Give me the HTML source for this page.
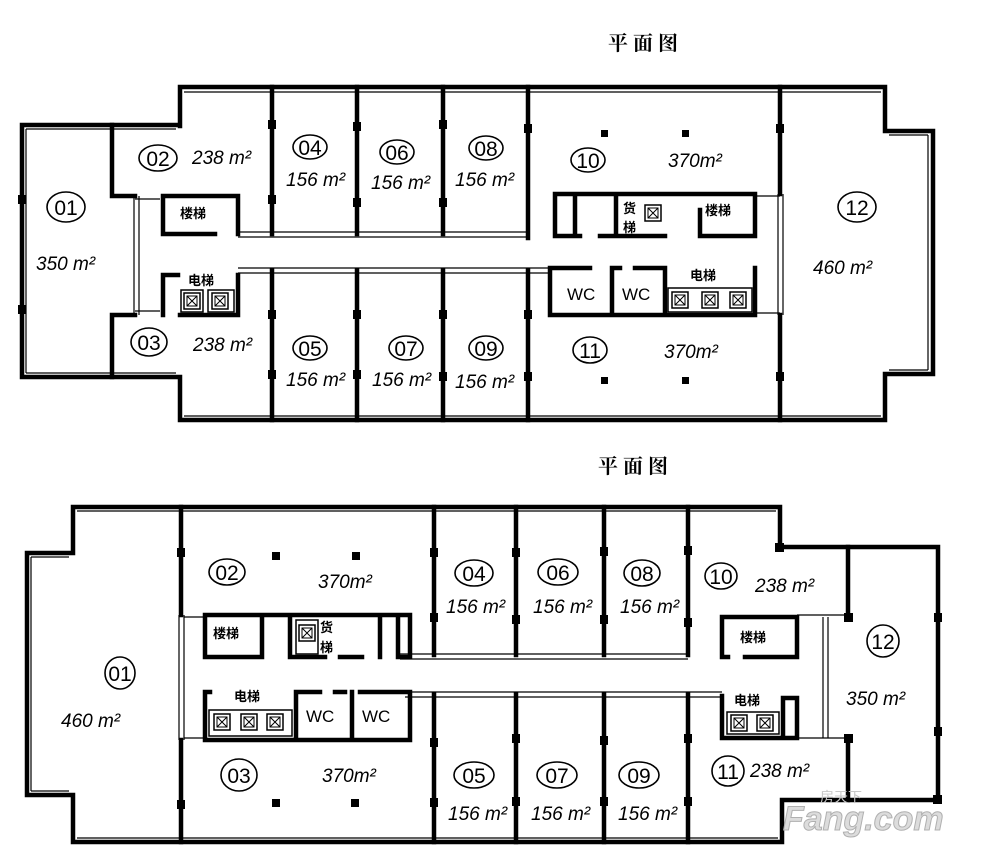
<!DOCTYPE html>
<html><head><meta charset="utf-8"><style>
html,body{margin:0;padding:0;background:#fff;}
svg{display:block;}
.w{stroke:#000;stroke-width:4.5;fill:none;stroke-linecap:square;}
.t{stroke:#000;stroke-width:1.2;fill:none;}
.c{fill:#fff;stroke:#000;stroke-width:1.6;}
.n{font-family:"Liberation Sans",sans-serif;font-size:21px;text-anchor:middle;}
.a{font-family:"Liberation Sans",sans-serif;font-style:italic;font-size:19px;}
.cj{font-family:"Liberation Sans","Noto Sans CJK SC",sans-serif;font-weight:bold;font-size:13px;}
.ti{font-family:"Liberation Serif","Noto Serif CJK SC",serif;font-weight:bold;font-size:20px;letter-spacing:5px;}
</style></head><body>
<svg width="981" height="857" viewBox="0 0 981 857" xmlns="http://www.w3.org/2000/svg">
<defs>
<g id="el"><rect x="0" y="0" width="16" height="16" fill="#fff" stroke="#000" stroke-width="1.5"/><rect x="3" y="3" width="10" height="10" fill="none" stroke="#000" stroke-width="1"/><path d="M3 3L13 13M13 3L3 13" stroke="#000" stroke-width="1"/></g>
</defs>
<!-- ============ TOP PLAN ============ -->
<text x="608" y="50" class="ti">平面图</text>
<path class="w" d="M180 126 V87 H885 V131 H933 V374 H885 V420 H180 V377 H22 V125 H180"/>
<path class="t" d="M184 92 H881 M889 135 H928 M928 135 V370 M889 370 H928 M184 416 H881 M26 129 V373 M26 129 H176 M26 373 H176"/>
<path class="w" d="M112 125 V196 H135 M112 377 V315 H135 M163 234 V196 H238 V234 M163 234 H215 M163 315 V275 H178 M180 315 H238 V275"/>
<path class="t" d="M134 196 V315 M139 196 V315 M135 199 H160 M135 311 H160"/>
<path class="w" d="M272 87 V234 M357 87 V234 M443 87 V234 M528 87 V238 M272 270 V420 M357 270 V420 M443 270 V420 M528 270 V420 M780 87 V194 M780 315 V420"/>
<path class="t" d="M238 232 H528 M238 237 H528 M238 268 H550 M238 273 H550 M778 194 V315 M783 194 V315 M755 196 H780 M755 313 H780"/>
<path class="w" d="M555 194 H755 V236 H700 M555 194 V236 M575 194 V236 M555 236 H580 M600 236 H665 M700 236 V210 M616 194 V236"/>
<path class="w" d="M550 268 V315 H755 V268 M550 268 H590 M612 268 V315 M612 268 H620 M635 268 H665 V315"/>
<rect x="668" y="288" width="84" height="24" fill="none" stroke="#000" stroke-width="1.5"/>
<use href="#el" x="672" y="292"/><use href="#el" x="702" y="292"/><use href="#el" x="730" y="292"/>
<use href="#el" x="645" y="205"/>
<text x="623" y="213" class="cj">货</text><text x="623" y="232" class="cj">梯</text>
<text x="705" y="215" class="cj">楼梯</text>
<text x="690" y="280" class="cj">电梯</text>
<text x="567" y="300" class="a" style="font-style:normal;font-size:17px">WC</text>
<text x="622" y="300" class="a" style="font-style:normal;font-size:17px">WC</text>
<rect x="181" y="290" width="22" height="22" fill="none" stroke="#000" stroke-width="1.5"/>
<use href="#el" x="184" y="293"/><use href="#el" x="212" y="293"/>
<rect x="208" y="290" width="26" height="22" fill="none" stroke="#000" stroke-width="1.5"/>
<text x="180" y="218" class="cj">楼梯</text>
<text x="188" y="285" class="cj">电梯</text>
<g fill="#000">
<rect x="601" y="130" width="7" height="7"/><rect x="682" y="130" width="7" height="7"/>
<rect x="601" y="377" width="7" height="7"/><rect x="682" y="377" width="7" height="7"/>
<rect x="268" y="120" width="8" height="9"/><rect x="353" y="122" width="8" height="9"/><rect x="439" y="120" width="8" height="9"/><rect x="524" y="124" width="8" height="9"/>
<rect x="268" y="195" width="8" height="9"/><rect x="353" y="198" width="8" height="9"/><rect x="439" y="198" width="8" height="9"/>
<rect x="268" y="310" width="8" height="9"/><rect x="353" y="310" width="8" height="9"/><rect x="439" y="310" width="8" height="9"/><rect x="524" y="310" width="8" height="9"/>
<rect x="268" y="370" width="8" height="9"/><rect x="353" y="370" width="8" height="9"/><rect x="439" y="372" width="8" height="9"/><rect x="524" y="372" width="8" height="9"/>
<rect x="776" y="124" width="8" height="9"/><rect x="776" y="372" width="8" height="9"/>
<rect x="18" y="195" width="8" height="9"/><rect x="18" y="305" width="8" height="9"/>
</g>
<g>
<ellipse class="c" cx="66" cy="207" rx="19" ry="15"/><text x="66" y="215" class="n">01</text>
<text x="36" y="270" class="a">350 m²</text>
<ellipse class="c" cx="158" cy="158" rx="19" ry="13"/><text x="158" y="166" class="n">02</text>
<text x="192" y="164" class="a">238 m²</text>
<ellipse class="c" cx="149" cy="342" rx="18" ry="14"/><text x="149" y="350" class="n">03</text>
<text x="193" y="351" class="a">238 m²</text>
<ellipse class="c" cx="310" cy="147" rx="17" ry="12"/><text x="310" y="155" class="n">04</text>
<text x="286" y="186" class="a">156 m²</text>
<ellipse class="c" cx="397" cy="152" rx="17" ry="12"/><text x="397" y="160" class="n">06</text>
<text x="371" y="189" class="a">156 m²</text>
<ellipse class="c" cx="486" cy="148" rx="17" ry="12"/><text x="486" y="156" class="n">08</text>
<text x="455" y="186" class="a">156 m²</text>
<ellipse class="c" cx="588" cy="160" rx="17" ry="12"/><text x="588" y="168" class="n">10</text>
<text x="668" y="167" class="a">370m²</text>
<ellipse class="c" cx="857" cy="207" rx="19" ry="15"/><text x="857" y="215" class="n">12</text>
<text x="813" y="274" class="a">460 m²</text>
<ellipse class="c" cx="310" cy="348" rx="17" ry="12"/><text x="310" y="356" class="n">05</text>
<text x="286" y="386" class="a">156 m²</text>
<ellipse class="c" cx="406" cy="348" rx="17" ry="12"/><text x="406" y="356" class="n">07</text>
<text x="372" y="386" class="a">156 m²</text>
<ellipse class="c" cx="486" cy="348" rx="17" ry="12"/><text x="486" y="356" class="n">09</text>
<text x="455" y="388" class="a">156 m²</text>
<ellipse class="c" cx="590" cy="350" rx="17" ry="13"/><text x="590" y="358" class="n">11</text>
<text x="664" y="358" class="a">370m²</text>
</g>

<!-- ============ BOTTOM PLAN ============ -->
<text x="598" y="473" class="ti">平面图</text>
<path class="w" d="M73 553 V507 H780 V547 H938 V800 H782 V842 H73 V795 H27 V553 H73"/>
<path class="t" d="M77 511 H776 M31 557 H69 M31 557 V791 M31 791 H69 M77 838 H778"/>
<path class="w" d="M181 507 V615 M181 740 V842 M434 507 V655 M516 507 V655 M604 507 V655 M688 507 V655 M434 694 V842 M516 694 V842 M604 694 V842 M688 694 V842 M848 547 V617 M848 738 V800"/>
<path class="t" d="M179 615 V740 M184 615 V740 M184 617 H205 M184 738 H205 M400 654 H688 M400 659 H688 M405 692 H722 M405 697 H722 M823 617 V738 M828 617 V738 M797 615 H848 M797 738 H848"/>
<path class="w" d="M205 657 V615 H410 V657 M205 657 H262 M290 657 H325 M340 657 H362 M380 615 V657 M398 657 H410 M398 615 V657 M262 615 V657 M290 615 V657"/>
<rect x="296" y="620" width="22" height="34" fill="none" stroke="#000" stroke-width="1.5"/>
<use href="#el" x="299" y="625"/>
<text x="320" y="632" class="cj">货</text><text x="320" y="652" class="cj">梯</text>
<text x="213" y="638" class="cj">楼梯</text>
<path class="w" d="M205 692 V740 H410 V692 M205 692 H210 M296 692 H320 M296 692 V740 M352 692 V740 M335 692 H345 M360 692 H410"/>
<rect x="209" y="710" width="83" height="26" fill="none" stroke="#000" stroke-width="1.5"/>
<use href="#el" x="214" y="714"/><use href="#el" x="241" y="714"/><use href="#el" x="267" y="714"/>
<text x="234" y="701" class="cj">电梯</text>
<text x="306" y="722" class="a" style="font-style:normal;font-size:17px">WC</text>
<text x="362" y="722" class="a" style="font-style:normal;font-size:17px">WC</text>
<path class="w" d="M722 657 V617 H797 V657 H745 M722 657 H728"/>
<text x="740" y="642" class="cj">楼梯</text>
<path class="w" d="M722 696 V738 H797 V698 H783 V738"/>
<rect x="727" y="712" width="52" height="22" fill="none" stroke="#000" stroke-width="1.5"/>
<use href="#el" x="731" y="715"/><use href="#el" x="757" y="715"/>
<text x="734" y="705" class="cj">电梯</text>
<g fill="#000">
<rect x="272" y="552" width="8" height="8"/><rect x="352" y="552" width="8" height="8"/>
<rect x="272" y="799" width="8" height="8"/><rect x="351" y="799" width="8" height="8"/>
<rect x="177" y="548" width="8" height="9"/><rect x="177" y="800" width="8" height="9"/>
<rect x="430" y="548" width="8" height="9"/><rect x="512" y="548" width="8" height="9"/><rect x="600" y="547" width="8" height="9"/><rect x="684" y="546" width="8" height="9"/>
<rect x="430" y="613" width="8" height="9"/><rect x="512" y="615" width="8" height="9"/><rect x="600" y="615" width="8" height="9"/><rect x="684" y="618" width="8" height="9"/>
<rect x="430" y="738" width="8" height="9"/><rect x="512" y="734" width="8" height="9"/><rect x="600" y="736" width="8" height="9"/><rect x="684" y="734" width="8" height="9"/>
<rect x="430" y="798" width="8" height="9"/><rect x="512" y="797" width="8" height="9"/><rect x="600" y="797" width="8" height="9"/><rect x="684" y="797" width="8" height="9"/>
<rect x="934" y="613" width="8" height="9"/><rect x="934" y="727" width="8" height="9"/>
<rect x="775" y="543" width="9" height="9"/><rect x="844" y="613" width="9" height="9"/><rect x="844" y="734" width="9" height="9"/><rect x="933" y="795" width="9" height="9"/>
</g>
<g>
<ellipse class="c" cx="227" cy="572" rx="18" ry="13"/><text x="227" y="580" class="n">02</text>
<text x="318" y="588" class="a">370m²</text>
<ellipse class="c" cx="120" cy="673" rx="15" ry="16"/><text x="120" y="681" class="n">01</text>
<text x="61" y="727" class="a">460 m²</text>
<ellipse class="c" cx="239" cy="775" rx="18" ry="16"/><text x="239" y="783" class="n">03</text>
<text x="322" y="782" class="a">370m²</text>
<ellipse class="c" cx="474" cy="573" rx="19" ry="13"/><text x="474" y="581" class="n">04</text>
<text x="446" y="613" class="a">156 m²</text>
<ellipse class="c" cx="558" cy="572" rx="20" ry="13"/><text x="558" y="580" class="n">06</text>
<text x="533" y="613" class="a">156 m²</text>
<ellipse class="c" cx="642" cy="573" rx="18" ry="13"/><text x="642" y="581" class="n">08</text>
<text x="620" y="613" class="a">156 m²</text>
<ellipse class="c" cx="721" cy="576" rx="16" ry="13"/><text x="721" y="584" class="n">10</text>
<text x="755" y="592" class="a">238 m²</text>
<ellipse class="c" cx="883" cy="641" rx="16" ry="16"/><text x="883" y="649" class="n">12</text>
<text x="846" y="705" class="a">350 m²</text>
<ellipse class="c" cx="474" cy="775" rx="20" ry="13"/><text x="474" y="783" class="n">05</text>
<text x="448" y="820" class="a">156 m²</text>
<ellipse class="c" cx="557" cy="775" rx="20" ry="13"/><text x="557" y="783" class="n">07</text>
<text x="531" y="820" class="a">156 m²</text>
<ellipse class="c" cx="639" cy="775" rx="20" ry="13"/><text x="639" y="783" class="n">09</text>
<text x="618" y="820" class="a">156 m²</text>
<ellipse class="c" cx="728" cy="771" rx="16" ry="15"/><text x="728" y="779" class="n">11</text>
<text x="750" y="777" class="a">238 m²</text>
</g>
<text x="783" y="830" font-family="Liberation Sans,sans-serif" font-weight="bold" font-style="italic" font-size="34" fill="#dcdcdc" stroke="#b0b0b0" stroke-width="1">Fang.com</text>
<text x="820" y="802" font-family="Liberation Sans,Noto Sans CJK SC,sans-serif" font-size="14" fill="#c8c8c8">房天下</text>
</svg>
</body></html>
